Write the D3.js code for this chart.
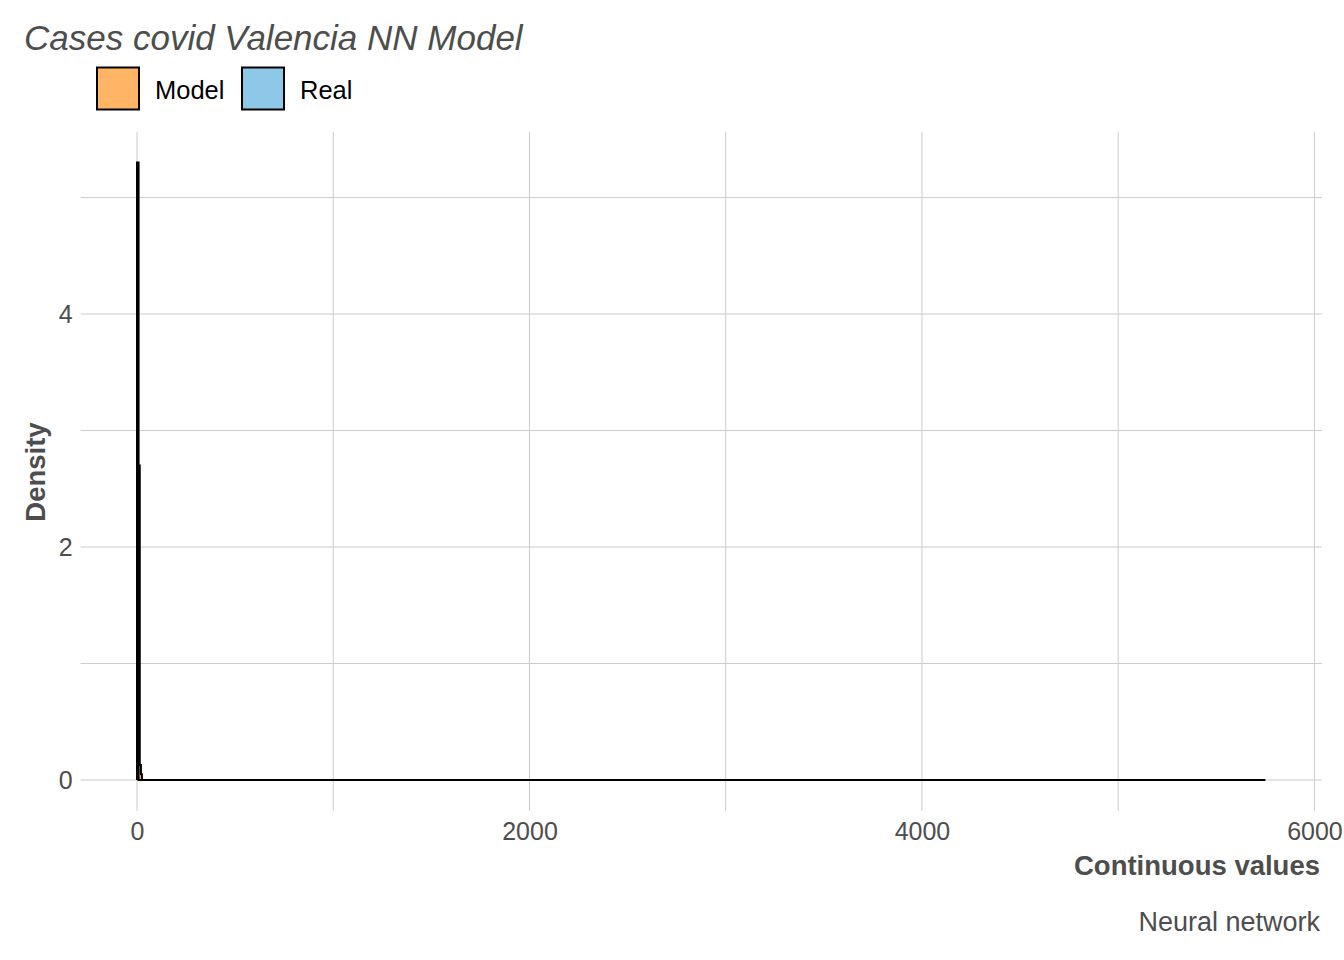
<!DOCTYPE html>
<html><head><meta charset="utf-8">
<script src="https://cdn.jsdelivr.net/npm/d3@7"></script>
<style>body{margin:0;background:#fff}text{font-family:"Liberation Sans",Arial,sans-serif}</style>
</head><body><svg id="c" width="1344" height="960"></svg>
<script>
// Step (bin) data: left edges and densities, last edge closes the series
const realEdges = [0, 8, 5750];
const realDensity = [5.3, 0];
const modelEdges = [0, 14, 20, 25, 30];
const modelDensity = [2.7, 0.13, 0.05, 0];
const seriesNames = ["Model", "Real"];
const seriesColors = ["#FFB466", "#8DC8E8"];
const xTicks = [0, 2000, 4000, 6000];
const xMinor = [1000, 3000, 5000];
const yTicks = [0, 2, 4];
const yMinor = [1, 3, 5];

const svg = d3.select("#c");
const xMin = 0, xMax = 5750, yMax = 5.3;
const xs = d3.scaleLinear().domain([xMin - (xMax - xMin) * 0.05, xMax + (xMax - xMin) * 0.05]).range([80.6, 1321.8]);
const ys = d3.scaleLinear().domain([-yMax * 0.05, yMax * 1.05]).range([810.9, 131.7]);

const grid = svg.append("g");
xMinor.concat(xTicks).forEach(v => grid.append("line").attr("x1", xs(v)).attr("x2", xs(v)).attr("y1", ys.range()[0]).attr("y2", ys.range()[1]).attr("stroke", "#cccccc").attr("stroke-width", 1));
yMinor.concat(yTicks).forEach(v => grid.append("line").attr("x1", xs.range()[0]).attr("x2", xs.range()[1]).attr("y1", ys(v)).attr("y2", ys(v)).attr("stroke", "#cccccc").attr("stroke-width", 1));

function toPts(edges, dens) {
  const pts = [];
  for (let i = 0; i < dens.length; i++) pts.push([edges[i], dens[i]]);
  pts.push([edges[edges.length - 1], dens[dens.length - 1]]);
  return pts;
}
const area = d3.area().x(d => xs(d[0])).y0(ys(0)).y1(d => ys(d[1])).curve(d3.curveStepAfter);
const line = d3.line().x(d => xs(d[0])).y(d => ys(d[1])).curve(d3.curveStepAfter);

const realPts = toPts(realEdges, realDensity);
const modelPts = toPts(modelEdges, modelDensity);
svg.append("path").attr("d", area(realPts)).attr("fill", seriesColors[1]);
svg.append("path").attr("d", area(modelPts)).attr("fill", seriesColors[0]);
function outline(pts) {
  const p = [[pts[0][0], 0]].concat(pts);
  return line(p);
}
svg.append("path").attr("d", outline(realPts)).attr("fill", "none").attr("stroke", "#000").attr("stroke-width", 2);
svg.append("path").attr("d", outline(modelPts)).attr("fill", "none").attr("stroke", "#000").attr("stroke-width", 2);

// axes
const xAxis = svg.append("g").attr("transform", `translate(0,${ys.range()[0]})`)
  .call(d3.axisBottom(xs).tickValues(xTicks).tickSize(0).tickPadding(11).tickFormat(d3.format("d")));
xAxis.select(".domain").remove();
xAxis.selectAll("text").attr("font-size", 25).attr("fill", "#4d4d4d").attr("font-family", "Liberation Sans, Arial, sans-serif");
const yAxis = svg.append("g").attr("transform", `translate(${xs.range()[0]},0)`)
  .call(d3.axisLeft(ys).tickValues(yTicks).tickSize(0).tickPadding(8).tickFormat(d3.format("d")));
yAxis.select(".domain").remove();
yAxis.selectAll("text").attr("font-size", 25).attr("fill", "#4d4d4d").attr("font-family", "Liberation Sans, Arial, sans-serif");

// titles
svg.append("text").attr("x", 24).attr("y", 50).attr("font-size", 35).attr("font-style", "italic").attr("fill", "#4d4d4d").text("Cases covid Valencia NN Model");
svg.append("text").attr("transform", "translate(45,472) rotate(-90)").attr("text-anchor", "middle").attr("font-size", 27.5).attr("font-weight", "bold").attr("fill", "#4d4d4d").text("Density");
svg.append("text").attr("x", 1320).attr("y", 875).attr("text-anchor", "end").attr("font-size", 27.5).attr("font-weight", "bold").attr("fill", "#4d4d4d").text("Continuous values");
svg.append("text").attr("x", 1320).attr("y", 931).attr("text-anchor", "end").attr("font-size", 27).attr("fill", "#4d4d4d").text("Neural network");

// legend
const legX = [97, 242];
seriesNames.forEach((n, i) => {
  svg.append("rect").attr("x", legX[i]).attr("y", 67.5).attr("width", 42).attr("height", 42).attr("fill", seriesColors[i]).attr("stroke", "#000").attr("stroke-width", 2);
  svg.append("text").attr("x", legX[i] + 58).attr("y", 99).attr("font-size", 25.5).attr("fill", "#000").text(n);
});
</script></body></html>
